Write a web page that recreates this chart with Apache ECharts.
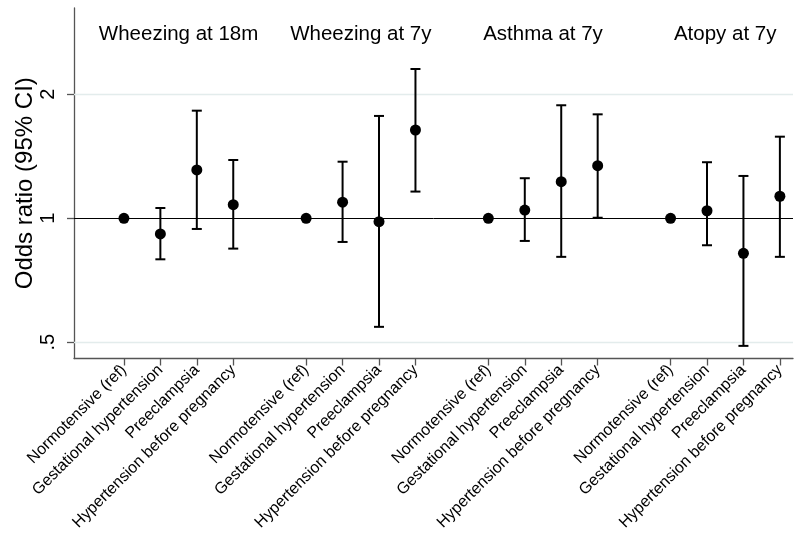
<!DOCTYPE html>
<html><head><meta charset="utf-8">
<script src="https://cdn.jsdelivr.net/npm/echarts@6/dist/echarts.min.js"></script>
<style>html,body{margin:0;padding:0;background:#fff}#c{width:800px;height:546px}</style>
</head><body><div id="c"></div>
<script>
const categories = ['Normotensive (ref)', 'Gestational hypertension', 'Preeclampsia', 'Hypertension before pregnancy'];
const outcomes = ['Wheezing at 18m', 'Wheezing at 7y', 'Asthma at 7y', 'Atopy at 7y'];
const xPositions = [[1, 2, 3, 4], [6, 7, 8, 9], [11, 12, 13, 14], [16, 17, 18, 19]];
const yTicks = [0.5, 1, 2];

const orWheeze18m = [1, 0.916, 1.31, 1.079];
const loWheeze18m = [null, 0.795, 0.942, 0.844];
const hiWheeze18m = [null, 1.059, 1.825, 1.385];

const orWheeze7y = [1, 1.094, 0.981, 1.638];
const loWheeze7y = [null, 0.876, 0.545, 1.161];
const hiWheeze7y = [null, 1.372, 1.772, 2.304];

const orAsthma7y = [1, 1.047, 1.227, 1.342];
const loAsthma7y = [null, 0.881, 0.806, 1.003];
const hiAsthma7y = [null, 1.251, 1.881, 1.788];

const orAtopy7y = [1, 1.043, 0.822, 1.131];
const loAtopy7y = [null, 0.860, 0.490, 0.806];
const hiAtopy7y = [null, 1.368, 1.267, 1.578];

const ors = [orWheeze18m, orWheeze7y, orAsthma7y, orAtopy7y];
const los = [loWheeze18m, loWheeze7y, loAsthma7y, loAtopy7y];
const his = [hiWheeze18m, hiWheeze7y, hiAsthma7y, hiAtopy7y];

const FONT = '"Liberation Sans", Arial, sans-serif';

const allX = [], labelMap = {}, points = [], bars = [], titles = [];
xPositions.forEach((xs, g) => {
  xs.forEach((x, i) => {
    allX.push(x);
    labelMap[x] = categories[i];
    points.push([x, ors[g][i]]);
    if (los[g][i] != null) bars.push([x, los[g][i], his[g][i]]);
  });
  const cx = xs.reduce((a, b) => a + b, 0) / xs.length;
  titles.push({ value: [cx, 2.8], name: outcomes[g] });
});

const chart = echarts.init(document.getElementById('c'), null, { renderer: 'canvas' });
chart.setOption({
  animation: false,
  backgroundColor: '#fff',
  grid: { left: 74, right: 7, top: 8, bottom: 187.5, containLabel: false, outerBoundsMode: 'none' },
  xAxis: {
    type: 'value', min: -0.37, max: 19.36,
    axisLine: { show: true, onZero: false, lineStyle: { color: '#555', width: 1.3 } },
    axisTick: { show: true, customValues: allX, length: 7, lineStyle: { color: '#555', width: 1.3 } },
    axisLabel: {
      customValues: allX, rotate: 45, margin: 9,
      formatter: v => labelMap[v] || '',
      color: '#000', fontSize: 16, fontFamily: FONT
    },
    splitLine: { show: false }
  },
  yAxis: {
    type: 'log', logBase: 2, min: 0.4566, max: 3.24,
    name: 'Odds ratio (95% CI)', nameLocation: 'middle', nameGap: 37, nameRotate: 90,
    nameMoveOverlap: false,
    nameTextStyle: { color: '#000', fontSize: 24, fontFamily: FONT },
    axisLine: { show: true, onZero: false, lineStyle: { color: '#555', width: 1.3 } },
    axisTick: { show: true, customValues: yTicks, length: 7, lineStyle: { color: '#555', width: 1.3 } },
    axisLabel: {
      customValues: yTicks, rotate: 90, margin: 16,
      formatter: v => (v === 0.5 ? '.5' : String(v)),
      color: '#000', fontSize: 20, fontFamily: FONT
    },
    splitLine: { show: false }
  },
  series: [
    {
      type: 'custom',
      data: bars,
      renderItem: (params, api) => {
        const x = api.value(0);
        const lo = api.coord([x, api.value(1)]);
        const hi = api.coord([x, api.value(2)]);
        const w = 5;
        const style = { stroke: '#000', lineWidth: 2 };
        return {
          type: 'group',
          children: [
            { type: 'line', shape: { x1: lo[0], y1: lo[1], x2: hi[0], y2: hi[1] }, style },
            { type: 'line', shape: { x1: lo[0] - w, y1: lo[1], x2: lo[0] + w, y2: lo[1] }, style },
            { type: 'line', shape: { x1: hi[0] - w, y1: hi[1], x2: hi[0] + w, y2: hi[1] }, style }
          ]
        };
      },
      z: 3,
      markLine: {
        silent: true, symbol: 'none', label: { show: false },
        data: [
          { yAxis: 0.5, lineStyle: { color: '#e3ecec', width: 1.3, type: 'solid', opacity: 1 } },
          { yAxis: 2, lineStyle: { color: '#e3ecec', width: 1.3, type: 'solid', opacity: 1 } },
          { yAxis: 1, lineStyle: { color: '#000', width: 1, type: 'solid', opacity: 1 } }
        ],
        z: 1
      }
    },
    {
      type: 'scatter', data: points, symbol: 'circle', symbolSize: 11,
      itemStyle: { color: '#000', opacity: 1 }, z: 4
    },
    {
      type: 'scatter', data: titles, symbolSize: 0,
      itemStyle: { opacity: 1 },
      label: {
        show: true, position: 'inside', formatter: p => p.name, opacity: 1,
        color: '#000', textBorderWidth: 0, fontSize: 20.5, fontFamily: FONT
      }
    }
  ]
});
</script></body></html>
